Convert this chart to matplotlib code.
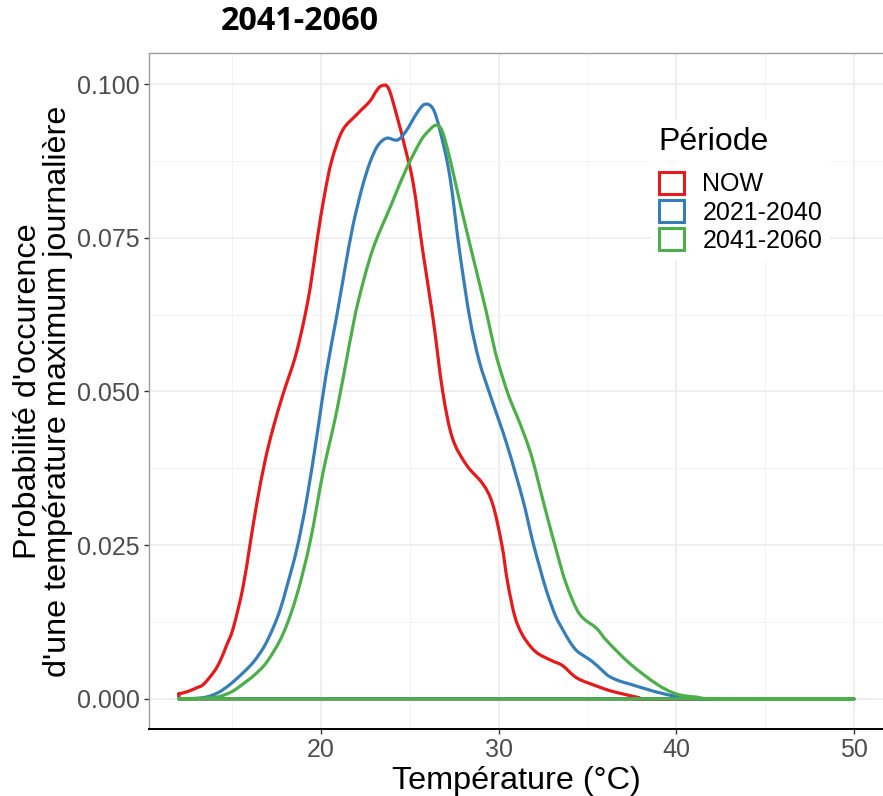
import matplotlib
matplotlib.use("Agg")
import matplotlib.pyplot as plt
from matplotlib.patches import Patch, PathPatch
from matplotlib.path import Path
from matplotlib.ticker import MultipleLocator

# ---- data ----
periods = ["NOW", "2021-2040", "2041-2060"]
colors = ["#E41A1C", "#377EB8", "#4DAF4A"]

now_t = [12.0, 12.5, 13.0, 13.4, 14.0, 14.33, 14.7, 15.06, 15.6, 16.0, 16.4,
         16.85, 17.3, 17.87, 18.54, 19.0, 19.4, 19.8, 20.2, 20.6, 21.2, 22.0, 22.75,
         23.1, 23.4, 23.8, 24.3, 24.7, 25.2, 25.73, 26.3, 26.85, 27.4, 28.2, 29.1, 29.66, 30.17,
         30.5, 30.9, 31.3, 31.8, 32.25, 33.0, 33.6, 34.4, 35.5, 36.3, 37.0, 37.9, 38.5, 50.0]
now_d = [0.0008, 0.0012, 0.0018, 0.0024, 0.0045, 0.0062, 0.0088, 0.0115, 0.018, 0.025, 0.032,
         0.0387, 0.044, 0.0496, 0.0555, 0.061, 0.067, 0.075, 0.082, 0.0875, 0.0924, 0.095, 0.0972,
         0.0988, 0.0997, 0.0993, 0.0945, 0.090, 0.0837,
         0.0728, 0.062, 0.050, 0.0424, 0.038, 0.035, 0.0317, 0.0252, 0.019, 0.0135, 0.0106,
         0.0085, 0.0073, 0.0062, 0.0054, 0.0034, 0.0021, 0.0013, 0.0008, 0.0002, 0.0, 0.0]

p1_t = [12.0, 13.37, 14.2, 14.9, 15.6, 16.2, 16.8, 17.3, 17.7, 18.1, 18.65, 19.2, 19.78, 20.3,
        20.9, 21.35, 21.8, 22.3, 22.75, 23.2, 23.7, 24.3, 24.8, 25.4, 25.84, 26.3, 26.7, 27.25,
        27.8, 28.37, 28.9, 29.5, 30.45, 31.35, 31.9, 32.3, 32.7, 33.2, 33.6, 34.0, 34.4, 34.9,
        35.3, 35.8, 36.2, 36.8, 37.4, 38.65, 39.8, 40.8, 42.0, 50.0]
p1_d = [0.0, 0.0002, 0.001, 0.0024, 0.0042, 0.006, 0.0085, 0.0115, 0.0145, 0.0185, 0.0245,
        0.0325, 0.043, 0.053, 0.0625, 0.070, 0.077, 0.083, 0.0872, 0.090, 0.0912, 0.0909, 0.0924,
        0.0953, 0.0967, 0.096, 0.0924, 0.085, 0.0728, 0.062, 0.055, 0.0496, 0.0415, 0.0325,
        0.0258, 0.0215, 0.0175, 0.0135, 0.0113, 0.0093, 0.0078, 0.0068, 0.006, 0.0047, 0.0037,
        0.0029, 0.0024, 0.0013, 0.0005, 0.0001, 0.0, 0.0]

p2_t = [12.0, 13.5, 14.3, 15.0, 15.6, 16.3, 17.0, 17.87, 18.65, 19.4, 20.1, 20.9, 21.6, 22.1,
        22.9, 23.9, 24.8, 25.6, 26.0, 26.45, 26.8, 27.2, 27.6, 28.0, 28.5, 29.3, 29.8, 30.2,
        30.6, 31.0, 31.5, 31.9, 32.3, 32.7, 33.26, 33.8, 34.55, 35.5, 36.1, 37.4, 38.9, 40.0,
        41.1, 42.5, 50.0]
p2_d = [0.0, 0.0001, 0.0004, 0.0012, 0.0024, 0.004, 0.0062, 0.0106, 0.017, 0.0257, 0.0366,
        0.047, 0.0577, 0.0647, 0.073, 0.080, 0.0862, 0.0907, 0.0922, 0.0933, 0.0925, 0.0885,
        0.0835, 0.0785, 0.0725, 0.063, 0.0565, 0.0525, 0.049, 0.0462, 0.0425, 0.039, 0.0345,
        0.030, 0.024, 0.0187, 0.0138, 0.0115, 0.0094, 0.0057, 0.0024, 0.0008, 0.0003, 0.0, 0.0]

series = [(now_t, now_d), (p1_t, p1_d), (p2_t, p2_d)]

x_ticks = [20, 30, 40, 50]
y_ticks = [0.000, 0.025, 0.050, 0.075, 0.100]
y_tick_labels = ["0.000", "0.025", "0.050", "0.075", "0.100"]


def smooth_closed_path(t, d):
    """Catmull-Rom curve through the points (as cubic Bezier), closed along the baseline."""
    pts = list(zip(t, d))
    n = len(pts)
    verts = [pts[0]]
    codes = [Path.MOVETO]
    for i in range(n - 1):
        p0 = pts[i - 1] if i > 0 else pts[i]
        p1 = pts[i]
        p2 = pts[i + 1]
        p3 = pts[i + 2] if i + 2 < n else pts[i + 1]
        c1 = (p1[0] + (p2[0] - p0[0]) / 6, p1[1] + (p2[1] - p0[1]) / 6)
        c2 = (p2[0] - (p3[0] - p1[0]) / 6, p2[1] - (p3[1] - p1[1]) / 6)
        verts += [c1, c2, p2]
        codes += [Path.CURVE4] * 3
    verts += [(t[-1], 0.0), (t[0], 0.0), pts[0]]
    codes += [Path.LINETO] * 3
    return Path(verts, codes)


# ---- figure ----
W, H = 883, 796
fig = plt.figure(figsize=(W / 100, H / 100), dpi=100)
left, right, top, bottom = 149, 883, 53, 729
ax = fig.add_axes([left / W, 1 - bottom / H, (right - left) / W, (bottom - top) / H])

for (t, d), c in zip(series, colors):
    patch = PathPatch(smooth_closed_path(t, d), facecolor="none", edgecolor=c, lw=2.3,
                      joinstyle="round", capstyle="round", zorder=3)
    ax.add_patch(patch)

ax.set_xlim(10.32, 51.63)
ax.set_ylim(-0.0049, 0.10505)

ax.set_xticks(x_ticks)
ax.set_yticks(y_ticks)
ax.set_yticklabels(y_tick_labels)
ax.xaxis.set_minor_locator(MultipleLocator(5))
ax.yaxis.set_minor_locator(MultipleLocator(0.0125))
ax.grid(which="major", color="#ebebeb", lw=1.1, zorder=0)
ax.grid(which="minor", color="#f2f2f2", lw=0.6, zorder=0)
ax.set_axisbelow(True)

ax.tick_params(which="major", length=3.5, width=1, color="#333333", labelcolor="#4d4d4d",
               labelsize=18, pad=3)
ax.tick_params(which="minor", length=0)
for lbl in ax.get_xticklabels() + ax.get_yticklabels():
    lbl.set_family("Liberation Sans")

for s in ["top", "left"]:
    ax.spines[s].set_color("#9e9e9e")
    ax.spines[s].set_linewidth(1.0)
ax.spines["right"].set_visible(False)
ax.spines["bottom"].set_color("black")
ax.spines["bottom"].set_linewidth(1.4)

ax.set_xlabel("Température (°C)", fontsize=23.3, family="Liberation Sans", labelpad=3)
ax.set_ylabel("Probabilité d'occurence\nd'une température maximum journalière", fontsize=23.3,
              family="Liberation Sans", labelpad=3, linespacing=0.98)

handles = [Patch(facecolor="white", edgecolor=c, linewidth=2.2) for c in colors]
leg = ax.legend(handles, periods, title="Période", loc="upper left",
                bbox_to_anchor=((651 - left) / (right - left), 1 - (120 - top) / (bottom - top)),
                frameon=True, facecolor="white", edgecolor="none", framealpha=1,
                prop={"family": "Liberation Sans", "size": 18},
                title_fontproperties={"family": "Liberation Sans", "size": 23},
                handlelength=1.0, handleheight=0.95, handletextpad=0.75, labelspacing=0.15,
                borderpad=0.3, borderaxespad=0, fancybox=False)
leg._legend_box.align = "left"
leg._legend_box.sep = 10.5

fig.text(300 / W, 1 - 22 / H, "2041-2060", fontsize=23.3, fontweight="bold",
         family="Open Sans", ha="center", va="center")

fig.savefig("out.png", dpi=100)
